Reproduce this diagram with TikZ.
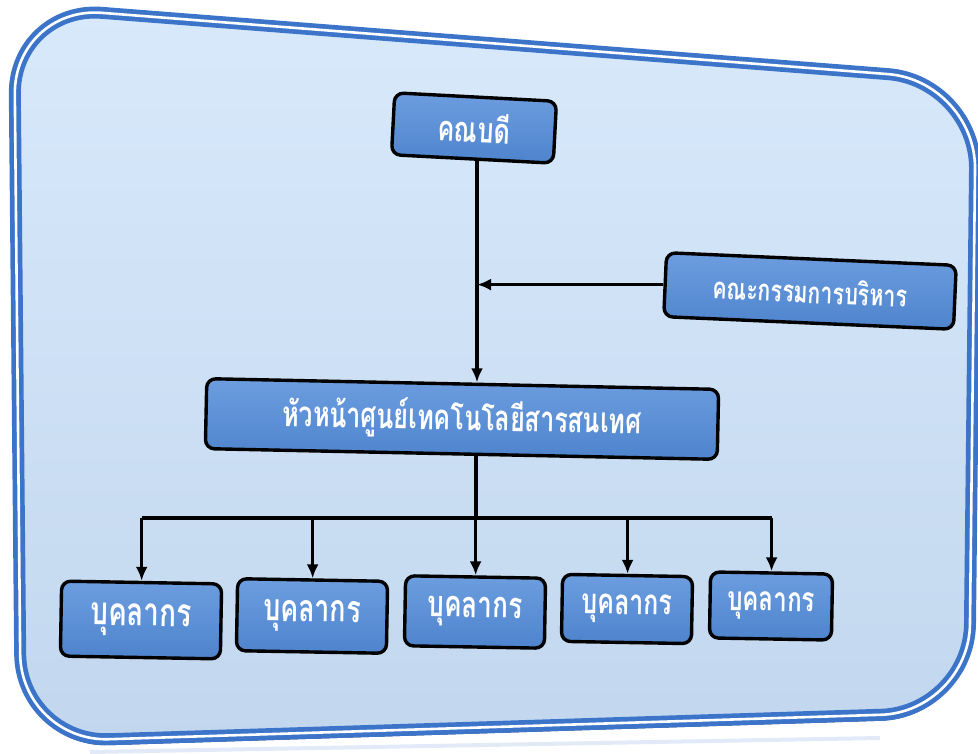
\documentclass[tikz,border=0pt]{standalone}
\usepackage{fontspec}
\usepackage{graphicx}
\newfontfamily\thaifont[Script=Thai]{Loma}
\usetikzlibrary{arrows.meta}
\definecolor{panelTop}{HTML}{D8E9FB}
\definecolor{panelBot}{HTML}{C2D7EE}
\definecolor{rimblue}{HTML}{3C74CA}
\definecolor{rimdark}{HTML}{1F3F73}
\definecolor{boxTop}{HTML}{6C9DDF}
\definecolor{boxBot}{HTML}{4E84CD}
\newcommand\thtext[1]{\scalebox{0.93}[1.3]{#1}}
\begin{document}
\begin{tikzpicture}[x=1pt,y=-1pt,
  orgbox/.style={draw=black, line width=3.4pt, rounded corners=9pt,
    top color=boxTop, bottom color=boxBot, text=white,
    font=\thaifont\bfseries\fontsize{27}{30}\selectfont, inner sep=0pt},
  link/.style={line width=3.4pt, draw=black},
  arr/.style={link, -{Latex[length=14pt,width=12pt]}},
  rim/.style={rounded corners=88pt}]
\useasboundingbox (0,0) rectangle (978,754);
% reflection below the panel
\draw[rimblue!15, line width=4pt] (90,752) -- (880,738);
% panel shadow
\draw[rim, rimdark, line width=6pt] (14,9) -- (976,84) -- (969,715) -- (21,745) -- cycle;
% panel
\fill[rim, top color=panelTop, bottom color=panelBot] (14,6) -- (976,81) -- (969,712) -- (21,742) -- cycle;
\draw[rim, rimblue, line width=12pt] (14,6) -- (976,81) -- (969,712) -- (21,742) -- cycle;
\draw[rim, white, line width=2.6pt] (14,6) -- (976,81) -- (969,712) -- (21,742) -- cycle;

% boxes
\node[orgbox, minimum width=162pt, minimum height=62pt, rotate=-3] (dean) at (474,128) {\thtext{คณบดี}};
\node[orgbox, minimum width=290pt, minimum height=64pt, rotate=-2.5,
      font=\thaifont\bfseries\fontsize{23}{26}\selectfont] (comm) at (810,291) {\thtext{คณะกรรมการบริหาร}};
\node[orgbox, minimum width=512pt, minimum height=70pt, rotate=-1.2] (head) at (462,419) {\thtext{หัวหน้าศูนย์เทคโนโลยีสารสนเทศ}};
\node[orgbox, minimum width=160pt, minimum height=75pt, rotate=-1,
      font=\thaifont\bfseries\fontsize{30}{32}\selectfont] (b1) at (141,620) {\thtext{บุคลากร}};
\node[orgbox, minimum width=150pt, minimum height=72pt, rotate=-1,
      font=\thaifont\bfseries\fontsize{29}{32}\selectfont] (b2) at (312,616) {\thtext{บุคลากร}};
\node[orgbox, minimum width=140pt, minimum height=70pt, rotate=-1,
      font=\thaifont\bfseries\fontsize{28}{32}\selectfont] (b3) at (475,612) {\thtext{บุคลากร}};
\node[orgbox, minimum width=130pt, minimum height=67pt, rotate=-1,
      font=\thaifont\bfseries\fontsize{27}{32}\selectfont] (b4) at (627,609) {\thtext{บุคลากร}};
\node[orgbox, minimum width=122pt, minimum height=66pt, rotate=-1,
      font=\thaifont\bfseries\fontsize{26}{32}\selectfont] (b5) at (771,606) {\thtext{บุคลากร}};

% connectors
\coordinate (spine) at (477,0);
\draw[arr] (dean.south -| spine) -- (head.north -| spine);
\draw[arr] (comm.west) -- (comm.west -| spine);
\coordinate (bus) at (476,518);
\draw[link] (head.south -| bus) -- (bus);
\draw[link] (b1.north |- bus) -- (b5.north |- bus);
\foreach \b in {b1,b2,b3,b4,b5} \draw[arr] (\b.north |- bus) -- (\b.north);
\end{tikzpicture}
\end{document}
